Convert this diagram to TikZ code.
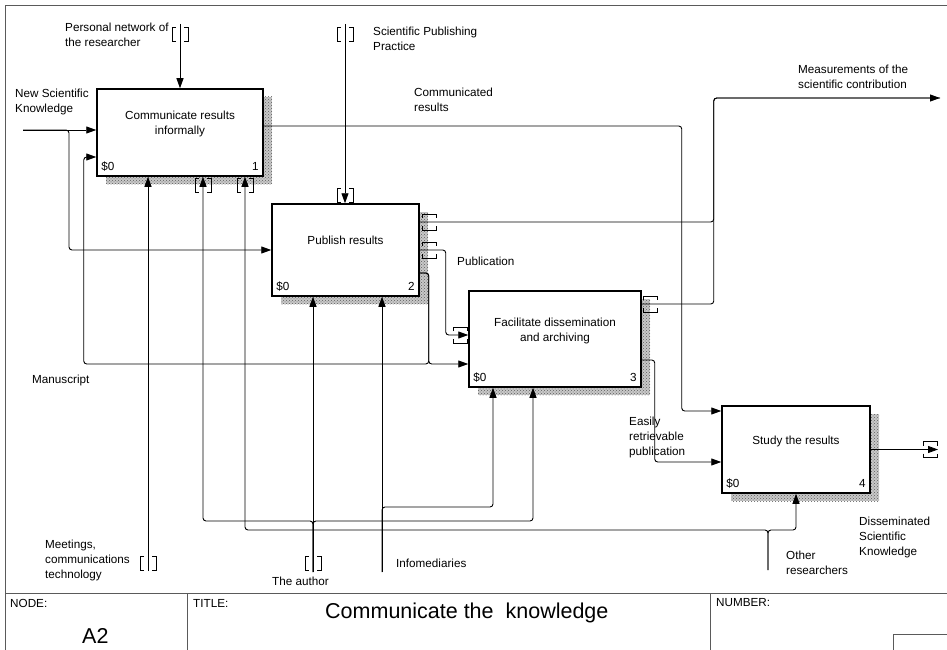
\documentclass[tikz,border=0pt]{standalone}
\usepackage{fontspec}
\setmainfont{Liberation Sans}
\usepackage{tikz}
\usetikzlibrary{arrows.meta,calc,patterns}
\definecolor{FrameGrey}{HTML}{5A5A5A}
\definecolor{HatchGrey}{HTML}{5C5C5C}
\definecolor{HatchBack}{HTML}{C8C8C8}
% tunnel brackets round a vertical / horizontal arrow end
\newcommand{\vtunnel}[2]{\draw[tunnel] (#1-4,#2-7) -- (#1-8,#2-7) -- (#1-8,#2+7) -- (#1-4,#2+7)
  (#1+4,#2-7) -- (#1+8,#2-7) -- (#1+8,#2+7) -- (#1+4,#2+7);}
\newcommand{\htunnel}[2]{\draw[tunnel] (#1-7,#2-4) -- (#1-7,#2-8) -- (#1+7,#2-8) -- (#1+7,#2-4)
  (#1-7,#2+4) -- (#1-7,#2+8) -- (#1+7,#2+8) -- (#1+7,#2+4);}

\begin{document}
\begin{tikzpicture}[
  x=1pt, y=-1pt,
  every node/.style={font=\fontsize{11.7}{15}\selectfont},
  func/.style={draw, line width=1.5pt, fill=white, inner sep=0pt,
    preaction={fill=HatchBack, transform canvas={shift={(9pt,-8pt)}}},
    preaction={pattern=crosshatch dots, pattern color=HatchGrey, transform canvas={shift={(9pt,-8pt)}}}},
  ftext/.style={anchor=north, align=center, inner sep=0pt},
  cost/.style={anchor=base west, inner sep=0pt},
  ref/.style={anchor=base east, inner sep=0pt},
  lbl/.style={anchor=north west, align=left, inner sep=0pt},
  big/.style={anchor=base west, inner sep=0pt, font=\fontsize{21.5}{25}\selectfont},
  arrow/.style={-{Triangle[length=10pt,width=7pt]}, line width=0.9pt, rounded corners=3pt},
  line/.style={line width=0.9pt, rounded corners=3pt},
  tunnel/.style={line width=0.8pt},
  frame/.style={draw=FrameGrey, line width=1pt}
]
  \useasboundingbox (0,0) rectangle (947,650);

  % frame and title block
  \draw[frame] (5,650) -- (5,6) -- (947,6);
  \draw[frame] (5,593) -- (947,593);
  \draw[frame] (187,593) -- (187,650);
  \draw[frame] (710,593) -- (710,650);
  \draw[frame] (893,650) -- (893,634) -- (947,634);

  % activities
  \node[func, minimum width=166pt, minimum height=87pt] (b1) at (180,132.5) {};
  \node[func, minimum width=147pt, minimum height=92pt] (b2) at (345.5,250) {};
  \node[func, minimum width=172pt, minimum height=96pt] (b3) at (555,339) {};
  \node[func, minimum width=148pt, minimum height=87pt] (b4) at (796,449.5) {};

  \node[ftext] (t1) at ([yshift=-23pt]b1.north) {Communicate results\\informally};
  \node[ftext] (t2) at ([yshift=-33pt]b2.north) {Publish results};
  \node[ftext] (t3) at ([yshift=-28pt]b3.north) {Facilitate dissemination\\and archiving};
  \node[ftext] (t4) at ([yshift=-31pt]b4.north) {Study the results};

  \node[cost] (c1) at ([shift={(5pt,6pt)}]b1.south west) {\$0};
  \node[ref] (n1) at ([shift={(-5pt,6pt)}]b1.south east) {1};
  \node[cost] (c2) at ([shift={(5pt,6pt)}]b2.south west) {\$0};
  \node[ref] (n2) at ([shift={(-5pt,6pt)}]b2.south east) {2};
  \node[cost] (c3) at ([shift={(5pt,6pt)}]b3.south west) {\$0};
  \node[ref] (n3) at ([shift={(-5pt,6pt)}]b3.south east) {3};
  \node[cost] (c4) at ([shift={(5pt,6pt)}]b4.south west) {\$0};
  \node[ref] (n4) at ([shift={(-5pt,6pt)}]b4.south east) {4};

  % free arrow ends
  \coordinate (pn) at (180,24);
  \coordinate (spp) at (345,24);
  \coordinate (nsk) at (23,130);
  \coordinate (meas) at (940,98);
  \coordinate (dsk) at (938,449.5);
  \coordinate (mct) at (148,571);
  \coordinate (auth) at (313,572);
  \coordinate (info) at (382,572);
  \coordinate (othr) at (768,570);

  % controls
  \draw[arrow] (pn) -- (pn |- b1.north);
  \draw[arrow] (spp) -- (spp |- b2.north);

  % inputs
  \draw[arrow] (nsk) -- (nsk -| b1.west);
  \draw[arrow] (nsk) -- ++(46,0) |- (b2.west);

  % outputs
  \draw[arrow] ([yshift=6.5pt]b1.east) -- ++(418,0) |- ([yshift=38.5pt]b4.west);
  \draw[arrow] ([yshift=28pt]b2.east) -- ++(294,0) |- (meas);
  \draw[line] ([yshift=35pt]b3.east) -- ++(72,0) |- (meas);
  \draw[arrow] (b2.east) -- ++(26,0) |- ([yshift=4pt]b3.west);
  \draw[arrow] ([yshift=-23pt]b2.east) -- ++(9,0) |- ([yshift=-25pt]b3.west);
  \draw[arrow] ([yshift=-23pt]b2.east) -- ++(9,0) -- ++(0,91) -- ++(-345,0) |- ([yshift=-24.5pt]b1.west);
  \draw[arrow] ([yshift=-21pt]b3.east) -- ++(13,0) |- ([yshift=-12.5pt]b4.west);
  \draw[arrow] (b4.east) -- (dsk);

  % mechanisms
  \draw[arrow] (mct) -- (mct |- b1.south);
  \draw[arrow] (auth) -- (auth |- b2.south);
  \draw[arrow] (auth) -- ++(0,-51) -| ([xshift=23pt]b1.south);
  \draw[arrow] (auth) -- ++(0,-51) -| ([xshift=-22pt]b3.south);
  \draw[arrow] (info) -- (info |- b2.south);
  \draw[arrow] (info) -- ++(0,-65) -| ([xshift=-62pt]b3.south);
  \draw[arrow] (othr) -- ++(0,-40) -| (b4.south);
  \draw[arrow] (othr) -- ++(0,-40) -| ([xshift=65pt]b1.south);

  % tunnels
  \vtunnel{180}{34}
  \vtunnel{345}{34}
  \vtunnel{345}{195}
  \vtunnel{203}{185}
  \vtunnel{245}{185}
  \vtunnel{148}{563}
  \vtunnel{313}{563}
  \htunnel{429}{222}
  \htunnel{429}{250}
  \htunnel{650}{304}
  \htunnel{460}{335}
  \htunnel{930}{449.5}

  % arrow labels
  \node[lbl] (pnl) at (65,22.5) {Personal network of\\the researcher};
  \node[lbl] (sppl) at (373,26.5) {Scientific Publishing\\Practice};
  \node[lbl] (nskl) at (15,89) {New Scientific\\Knowledge};
  \node[lbl] (crl) at (414,88) {Communicated\\results};
  \node[lbl] (measl) at (798,65) {Measurements of the\\scientific contribution};
  \node[lbl] (publ) at (457,257) {Publication};
  \node[lbl] (manl) at (32,375) {Manuscript};
  \node[lbl] (erpl) at (629,417) {Easily\\retrievable\\publication};
  \node[lbl] (dskl) at (859,517) {Disseminated\\Scientific\\Knowledge};
  \node[lbl] (othl) at (786,551) {Other\\researchers};
  \node[lbl] (mctl) at (45,540) {Meetings,\\communications\\technology};
  \node[lbl] (authl) at (272,577) {The author};
  \node[lbl] (infol) at (396,559) {Infomediaries};

  % title block texts
  \node[lbl] (nodel) at (10,599) {NODE:};
  \node[lbl] (titlel) at (193,599) {TITLE:};
  \node[lbl] (numl) at (716,598) {NUMBER:};
  \node[big] (a2) at (82,643) {A2};
  \node[big] (ttl) at (325,618) {Communicate the\ \ knowledge};
\end{tikzpicture}
\end{document}
